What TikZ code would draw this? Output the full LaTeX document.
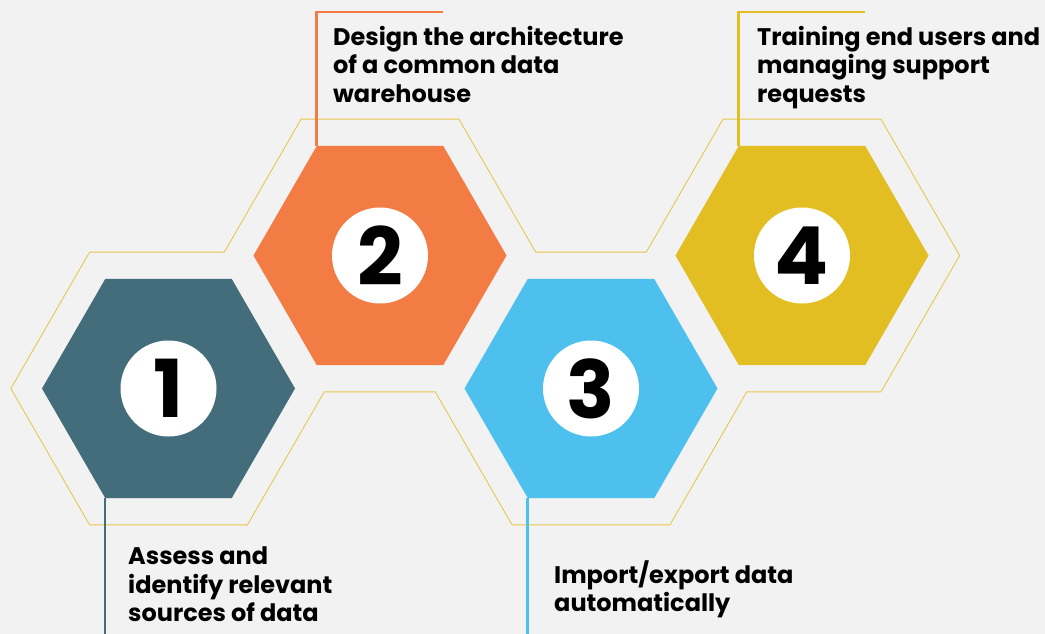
\documentclass[tikz,border=0pt]{standalone}
\usepackage{fontspec}
\setsansfont{Poppins}
\usepackage{tikz}
\usetikzlibrary{shapes.geometric,positioning,calc}
\definecolor{pagebg}{HTML}{F1F2F1}
\definecolor{stepteal}{HTML}{446D7B}
\definecolor{steporange}{HTML}{F37C44}
\definecolor{stepsky}{HTML}{4DC0EE}
\definecolor{stepgold}{HTML}{E2BE22}
\definecolor{rimyellow}{HTML}{E8C54A}

\begin{document}
\begin{tikzpicture}[x=1pt,y=-1pt,
 hexa/.style={regular polygon, regular polygon sides=6, minimum size=253pt, inner sep=0pt},
 rim/.style={regular polygon, regular polygon sides=6, minimum size=314pt, inner sep=0pt},
 numdisc/.style={circle, fill=white, minimum size=96pt, inner sep=0pt,
  font=\sffamily\bfseries\fontsize{80}{80}\selectfont},
 caption/.style={anchor=north west, align=left, inner sep=0pt,
  font=\sffamily\bfseries\fontsize{24}{28.5}\selectfont},
 leader/.style={line width=2.6pt}]
 \fill[pagebg] (0,0) rectangle (1045,634);
 \useasboundingbox (0,0) rectangle (1045,634);
 % thin rim round the honeycomb
 \node[rim, draw=rimyellow, line width=2pt] (o1) at (168.5,388.5) {};
 \node[rim, draw=rimyellow, line width=2pt] (o2) at (380,255.5) {};
 \node[rim, draw=rimyellow, line width=2pt] (o3) at (591,388.5) {};
 \node[rim, draw=rimyellow, line width=2pt] (o4) at (802,255.5) {};
 \node[rim, fill=pagebg] at (o1.center) {};
 \node[rim, fill=pagebg] at (o2.center) {};
 \node[rim, fill=pagebg] at (o3.center) {};
 \node[rim, fill=pagebg] at (o4.center) {};
 % the four steps
 \node[hexa, fill=stepteal] (h1) at (o1.center) {};
 \node[hexa, fill=steporange] (h2) at (o2.center) {};
 \node[hexa, fill=stepsky] (h3) at (o3.center) {};
 \node[hexa, fill=stepgold] (h4) at (o4.center) {};
 \node[numdisc] (n1) at (h1.center) {1};
 \node[numdisc] (n2) at (h2.center) {2};
 \node[numdisc] (n3) at (h3.center) {3};
 \node[numdisc] (n4) at (h4.center) {4};
 % leaders
 \coordinate (e1) at (105.5,634);
 \coordinate (e2) at (443,12);
 \coordinate (e3) at (528,634);
 \coordinate (e4) at (865,12);
 \draw[leader, stepteal] (h1.240) -- (h1.240 |- e1);
 \draw[leader, steporange] (h2.120) |- (e2);
 \draw[leader, stepsky] (h3.240) -- (h3.240 |- e3);
 \draw[leader, stepgold] (h4.120) |- (e4);
 % captions
 \node[caption] (t1) at (128,547) {Assess and\\identify relevant\\sources of data};
 \node[caption] (t2) at (333,26) {Design the architecture\\of a common data\\warehouse};
 \node[caption] (t3) at (554,560) {Import/export data\\automatically};
 \node[caption] (t4) at (757,26) {Training end users and\\managing support\\requests};
\end{tikzpicture}
\end{document}
